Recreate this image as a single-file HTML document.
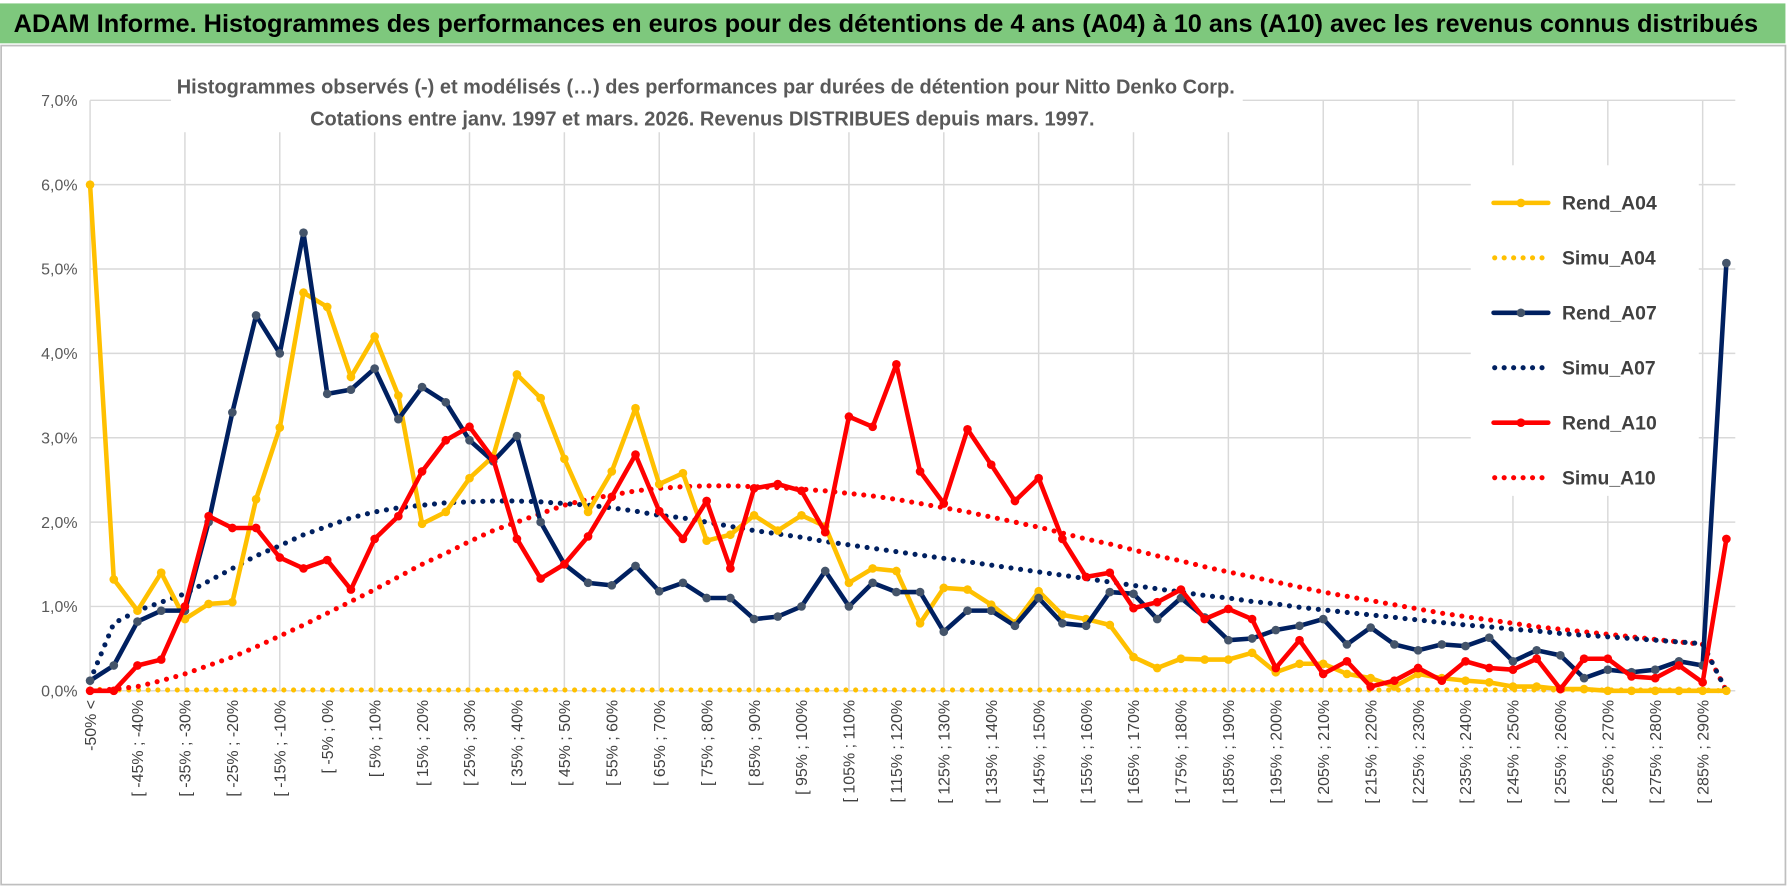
<!DOCTYPE html>
<html><head><meta charset="utf-8">
<style>
html,body{margin:0;padding:0;background:#fff;}
svg{display:block;}
text{font-family:"Liberation Sans Narrow","Liberation Sans",sans-serif;}
</style></head>
<body>
<svg id="chart" width="1790" height="888" viewBox="0 0 1570 779" preserveAspectRatio="none" xmlns="http://www.w3.org/2000/svg">
  <rect x="0" y="0" width="1570" height="779" fill="#ffffff"/>
  <rect x="0" y="3" width="1566" height="35" fill="#7ec87d"/>
  <text x="12" y="28" font-size="22" font-weight="bold" fill="#000" textLength="1530" lengthAdjust="spacingAndGlyphs">ADAM Informe. Histogrammes des performances en euros pour des détentions de 4 ans (A04) à 10 ans (A10) avec les revenus connus distribués</text>
  <rect x="1" y="40" width="1565" height="736" fill="none" stroke="#bfbfbf" stroke-width="1.5"/>
  <g id="grid"></g>
  <rect x="150" y="58" width="940" height="58" fill="#fff"/>
  <text x="619" y="82" font-size="18" font-weight="bold" fill="#595959" text-anchor="middle" textLength="928" lengthAdjust="spacingAndGlyphs">Histogrammes observés (-) et modélisés (…) des performances par durées de détention pour Nitto Denko Corp.</text>
  <text x="616" y="110" font-size="18" font-weight="bold" fill="#595959" text-anchor="middle" textLength="688" lengthAdjust="spacingAndGlyphs">Cotations entre janv. 1997 et mars. 2026.  Revenus DISTRIBUES depuis mars. 1997.</text>
  <g id="yaxis"></g>
  <g id="xaxis"></g>
  <g id="legend"></g>
  <g id="series"></g>
</svg>
<script>
const categories = [];
categories.push("-50% <");
for (let k = 1; k < 70; k++) { categories.push("[ " + (-55 + 5 * k) + "% ; " + (-50 + 5 * k) + "%"); }
const yTicks = [0, 1, 2, 3, 4, 5, 6, 7];
const yTickLabels = ["0,0%", "1,0%", "2,0%", "3,0%", "4,0%", "5,0%", "6,0%", "7,0%"];
const seriesNames = ["Rend_A04", "Simu_A04", "Rend_A07", "Simu_A07", "Rend_A10", "Simu_A10"];
const rendA04 = [6.0,1.32,0.95,1.4,0.85,1.03,1.05,2.27,3.12,4.72,4.55,3.72,4.2,3.5,1.98,2.12,2.52,2.78,3.75,3.47,2.75,2.12,2.6,3.35,2.45,2.58,1.78,1.85,2.08,1.9,2.08,1.95,1.28,1.45,1.42,0.8,1.22,1.2,1.02,0.8,1.18,0.9,0.85,0.78,0.4,0.27,0.38,0.37,0.37,0.45,0.22,0.32,0.32,0.2,0.15,0.05,0.2,0.15,0.12,0.1,0.05,0.05,0.02,0.02,0,0,0,0,0,0];
const simuA04 = [0.02,0.01,0.01,0.01,0.01,0.01,0.01,0.01,0.01,0.01,0.01,0.01,0.01,0.01,0.01,0.01,0.01,0.01,0.01,0.01,0.01,0.01,0.01,0.01,0.01,0.01,0.01,0.01,0.01,0.01,0.01,0.01,0.01,0.01,0.01,0.01,0.01,0.01,0.01,0.01,0.01,0.01,0.01,0.01,0.01,0.01,0.01,0.01,0.01,0.01,0.01,0.01,0.01,0.01,0.01,0.01,0.01,0.01,0.01,0.01,0.01,0.01,0.01,0.01,0.01,0.01,0.01,0.01,0.01,0];
const rendA07 = [0.12,0.3,0.82,0.95,0.95,2.0,3.3,4.45,4.0,5.43,3.52,3.57,3.82,3.22,3.6,3.42,2.97,2.72,3.02,2.0,1.5,1.28,1.25,1.48,1.18,1.28,1.1,1.1,0.85,0.88,1.0,1.42,1.0,1.28,1.17,1.17,0.7,0.95,0.95,0.77,1.1,0.8,0.77,1.17,1.15,0.85,1.1,0.87,0.6,0.62,0.72,0.77,0.85,0.55,0.75,0.55,0.48,0.55,0.53,0.63,0.35,0.48,0.42,0.15,0.25,0.22,0.25,0.35,0.3,5.07];
const simuA07 = [0.12,0.8,0.95,1.05,1.15,1.3,1.45,1.6,1.72,1.85,1.95,2.05,2.12,2.17,2.2,2.23,2.24,2.25,2.25,2.24,2.22,2.2,2.17,2.13,2.08,2.05,2.0,1.95,1.9,1.86,1.82,1.77,1.73,1.69,1.65,1.61,1.57,1.53,1.49,1.45,1.41,1.37,1.33,1.29,1.25,1.21,1.17,1.13,1.1,1.06,1.03,0.99,0.96,0.93,0.9,0.87,0.84,0.81,0.78,0.76,0.73,0.71,0.68,0.66,0.64,0.62,0.6,0.58,0.56,0];
const rendA10 = [0,0,0.3,0.37,1.0,2.07,1.93,1.93,1.58,1.45,1.55,1.2,1.8,2.07,2.6,2.97,3.13,2.75,1.8,1.33,1.5,1.83,2.3,2.8,2.13,1.8,2.25,1.45,2.4,2.45,2.37,1.88,3.25,3.13,3.87,2.6,2.22,3.1,2.68,2.25,2.52,1.8,1.35,1.4,0.98,1.05,1.2,0.85,0.97,0.85,0.27,0.6,0.2,0.35,0.05,0.12,0.27,0.12,0.35,0.27,0.25,0.38,0.02,0.38,0.38,0.17,0.15,0.3,0.1,1.8];
const simuA10 = [0,0.02,0.05,0.12,0.2,0.3,0.4,0.52,0.65,0.78,0.92,1.06,1.2,1.35,1.5,1.63,1.77,1.9,2.0,2.1,2.2,2.27,2.32,2.37,2.4,2.42,2.43,2.43,2.42,2.41,2.39,2.37,2.34,2.31,2.27,2.22,2.17,2.12,2.06,2.0,1.94,1.87,1.8,1.74,1.67,1.6,1.54,1.47,1.41,1.35,1.29,1.23,1.17,1.12,1.07,1.02,0.97,0.92,0.88,0.84,0.8,0.76,0.73,0.7,0.67,0.64,0.61,0.58,0.55,0];

const NS = "http://www.w3.org/2000/svg";
const X0 = 79, DX = 20.8, Y0 = 606, DY = 74;
function xScale(i) { return X0 + DX * i; }
function yScale(v) { return Y0 - DY * v; }
function mk(tag, attrs, parent) {
  const e = document.createElementNS(NS, tag);
  for (const k in attrs) e.setAttribute(k, attrs[k]);
  parent.appendChild(e);
  return e;
}
const grid = document.getElementById("grid");
const xRight = 1522;
yTicks.forEach(function (t) {
  const l = mk("line", {x1: X0, x2: xRight, y1: yScale(t), y2: yScale(t), stroke: "#d9d9d9", "stroke-width": 1.3}, grid);
  
  
});
for (let i = 0; i < categories.length; i += 4) {
  const l = mk("line", {x1: xScale(i), x2: xScale(i), y1: yScale(7), y2: Y0, stroke: "#d9d9d9", "stroke-width": 1.3}, grid);
  
  
}
const yaxis = document.getElementById("yaxis");
yTicks.forEach(function (t, j) {
  const tx = mk("text", {x: 68, y: yScale(t) + 5, "font-size": 14, fill: "#595959", "text-anchor": "end"}, yaxis);
  tx.textContent = yTickLabels[j];
  
  
});
const xaxis = document.getElementById("xaxis");
categories.forEach(function (c, i) {
  if (i % 2 !== 0) return;
  const xx = xScale(i) + 5;
  const tx = mk("text", {x: xx, y: 614, "font-size": 14, fill: "#404040", "text-anchor": "end", transform: "rotate(-90 " + xx + " 614)"}, xaxis);
  tx.textContent = c;
  
  
});
const legend = document.getElementById("legend");
const lb = mk("rect", {x: 1290, y: 145, width: 200, height: 290, fill: "#fff"}, legend);


const legColors = ["#ffc000", "#ffc000", "#002060", "#002060", "#ff0000", "#ff0000"];
const legMarkers = ["#ffc000", null, "#44546a", null, "#ff0000", null];
seriesNames.forEach(function (n, j) {
  const yy = 178 + j * 48.2;
  let ln;
  if (legMarkers[j]) {
    ln = mk("line", {x1: 1310, x2: 1358, y1: yy, y2: yy, stroke: legColors[j], "stroke-width": 4, "stroke-linecap": "round"}, legend);
    const c = mk("circle", {cx: 1334, cy: yy, r: 3.8, fill: legMarkers[j]}, legend);
    
    
  } else {
    ln = mk("line", {x1: 1311, x2: 1360, y1: yy, y2: yy, stroke: legColors[j], "stroke-width": 4.5, "stroke-linecap": "round", "stroke-dasharray": "0 8.3"}, legend);
  }
  
  
  const t = mk("text", {x: 1370, y: yy + 6, "font-size": 17, "font-weight": "bold", fill: "#404040"}, legend);
  t.textContent = n;
  
  
});
const seriesG = document.getElementById("series");
function pts(arr) { return arr.map(function (v, i) { return xScale(i).toFixed(1) + "," + yScale(v).toFixed(1); }).join(" "); }
function dotted(arr, color, name) {
  const p = mk("polyline", {points: pts(arr), fill: "none", stroke: color, "stroke-width": 4.5, "stroke-linecap": "round", "stroke-dasharray": "0 8.5"}, seriesG);
  
  
}
function solid(arr, color, marker, name) {
  const p = mk("polyline", {points: pts(arr), fill: "none", stroke: color, "stroke-width": 4, "stroke-linejoin": "round"}, seriesG);
  
  
  arr.forEach(function (v, i) {
    const c = mk("circle", {cx: xScale(i), cy: yScale(v), r: 3.8, fill: marker}, seriesG);
    
    
  });
}
dotted(simuA04, "#ffc000", "simu-a04-line");
dotted(simuA10, "#ff0000", "simu-a10-line");
dotted(simuA07, "#002060", "simu-a07-line");
solid(rendA04, "#ffc000", "#ffc000", "rend-a04-line");
solid(rendA07, "#002060", "#44546a", "rend-a07-line");
solid(rendA10, "#ff0000", "#ff0000", "rend-a10-line");
</script>
</body></html>
